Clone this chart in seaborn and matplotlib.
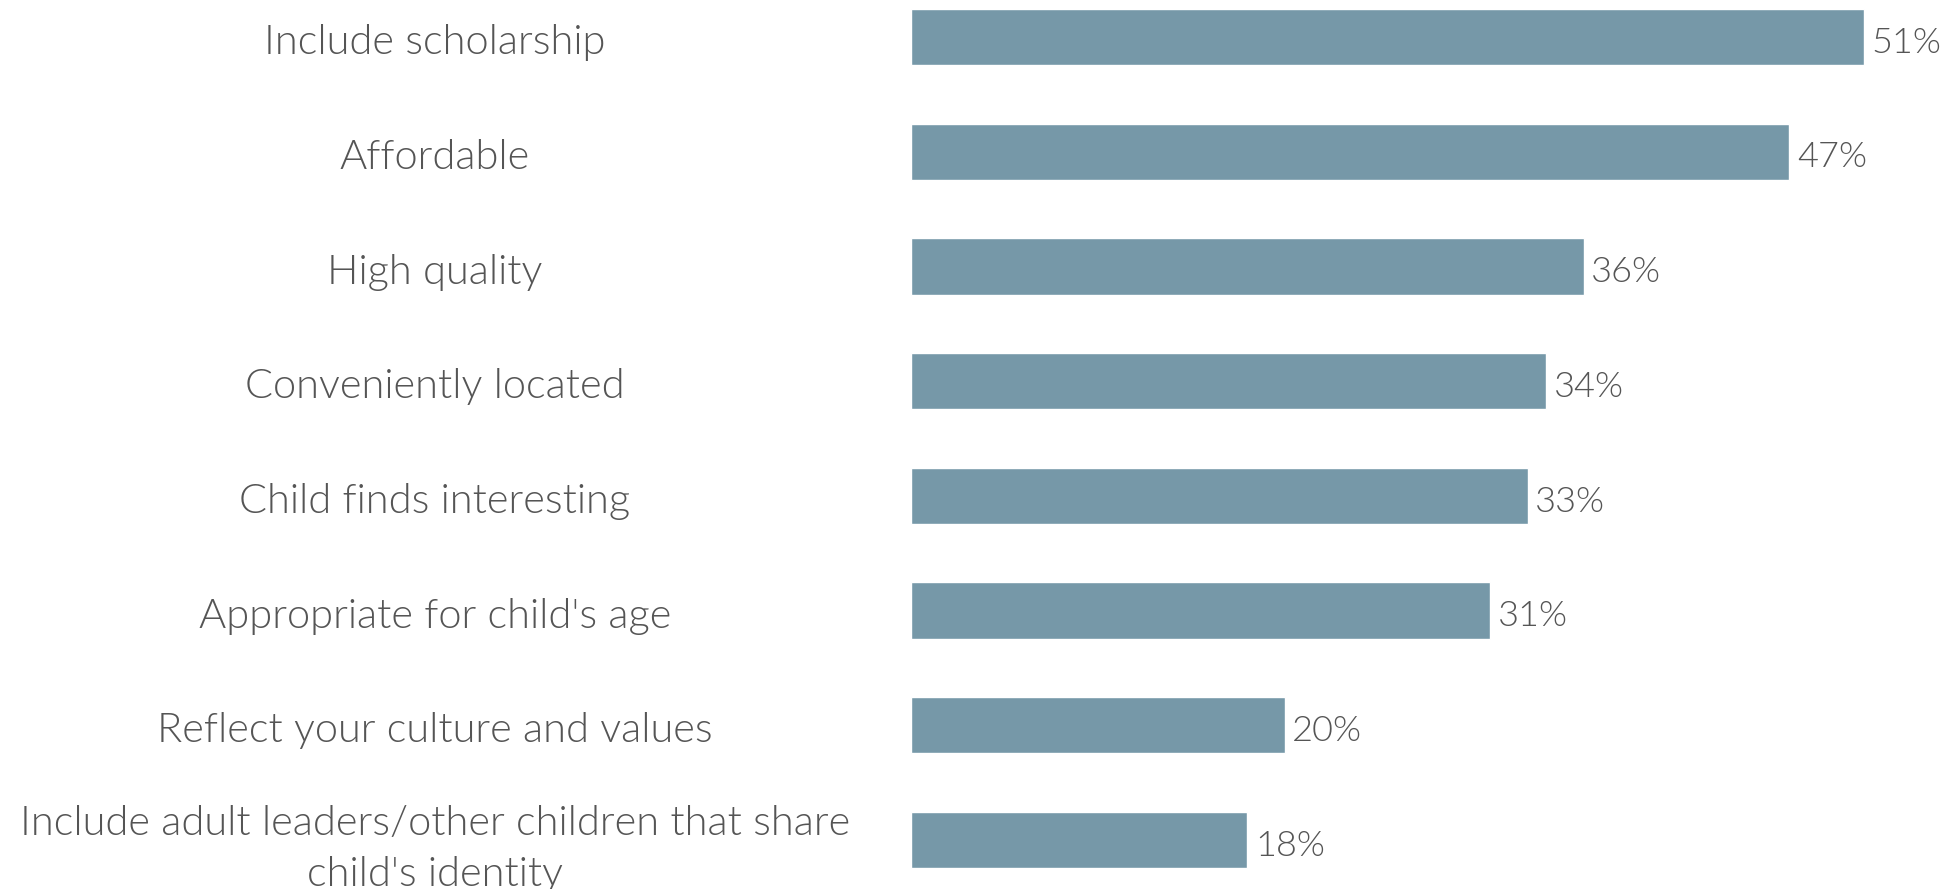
import matplotlib
matplotlib.use("Agg")
import matplotlib.pyplot as plt
import matplotlib.transforms as mtransforms
import seaborn as sns
import pandas as pd

categories = [
    "Include scholarship",
    "Affordable",
    "High quality",
    "Conveniently located",
    "Child finds interesting",
    "Appropriate for child's age",
    "Reflect your culture and values",
    "Include adult leaders/other children that share\nchild's identity",
]
values = [51, 47, 36, 34, 33, 31, 20, 18]

df = pd.DataFrame({"factor": categories, "pct": values})

sns.set_theme(style="white")
plt.rcParams["font.family"] = ["Lato", "DejaVu Sans"]

W, H, DPI = 1955, 889, 100
fig = plt.figure(figsize=(W / DPI, H / DPI), dpi=DPI)
left_px = 911
ax = fig.add_axes([left_px / W, 0, (W - left_px) / W, 1])

bar_color = "#7698a8"
sns.barplot(data=df, x="pct", y="factor", orient="h", color=bar_color,
            width=0.49, saturation=1, ax=ax)

px_per_unit = 18.69
ax.set_xlim(0, (W - left_px) / px_per_unit)
ax.set_ylim(7.428, -0.323)

for spine in ax.spines.values():
    spine.set_visible(False)
ax.set_xticks([])
ax.set_yticks([])
ax.set_xlabel("")
ax.set_ylabel("")

text_color = "#555555"
for i, v in enumerate(values):
    ax.text(v + 0.4, i + 0.05, f"{v}%", va="center", ha="left",
            fontsize=26, fontweight=300, color=text_color)

trans = mtransforms.blended_transform_factory(fig.transFigure, ax.transData)
for i, c in enumerate(categories):
    multiline = "\n" in c
    ax.text(435 / W, i + (0.08 if multiline else 0.05), c, transform=trans,
            ha="center", va="center", fontsize=30, fontweight=300,
            color=text_color, linespacing=1.45 if multiline else 1.2,
            clip_on=False)

fig.savefig("out.png", dpi=DPI)
